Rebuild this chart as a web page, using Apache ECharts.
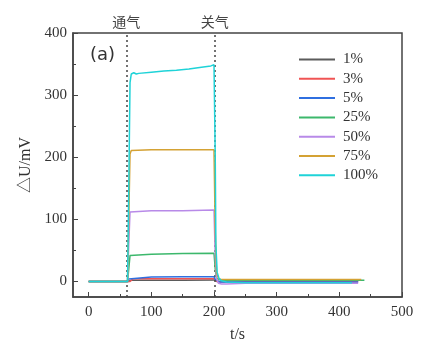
<!DOCTYPE html>
<html>
<head>
<meta charset="utf-8">
<script src="https://cdn.jsdelivr.net/npm/echarts@6/dist/echarts.min.js"></script>
<style>html,body{margin:0;padding:0;background:#fff;}#c{width:422px;height:358px;}</style>
</head>
<body>
<div id="c"></div>
<script>
// Series names and colours
const seriesNames = ['1%', '3%', '5%', '25%', '50%', '75%', '100%'];
const seriesColors = ['#5b5b5b', '#f05454', '#2f6fe0', '#3cb86c', '#b88ae8', '#d4a234', '#1fd3d8'];

// Time (s) and ΔU (mV) for each concentration
const t1 = [0, 63, 65, 68, 100, 150, 200, 202, 205, 210, 250, 300, 350, 400, 430];
const v1 = [0, 0, 1, 2, 2, 2, 2.5, 1, 0, 0, 0, 0, 0, 0, 0];
const t3 = [0, 66, 68, 71, 100, 150, 200, 202, 205, 210, 250, 300, 350, 400, 430];
const v3 = [0, 0, 2, 4.5, 4.5, 4.5, 4.5, 2, 0, -0.5, -0.5, -0.5, -0.5, -0.5, -0.5];
const t5 = [0, 62, 64, 66, 100, 150, 200, 202, 205, 210, 250, 300, 350, 400, 430];
const v5 = [0, 0, 4, 7, 7, 7.5, 7.5, 3, 0, -1, -1, -1, -1, -1, -1];
const t25 = [0, 62, 64, 66, 68, 100, 150, 200, 202, 204, 207, 212, 220, 250, 300, 350, 400, 440];
const v25 = [0, 0, 20, 42, 44, 44, 45, 45.5, 20, 5, 3, 2, 2, 2, 2, 2, 2, 2];
const t50 = [0, 62, 64, 66, 68, 100, 150, 200, 202, 204, 207, 212, 220, 250, 300, 350, 400, 430];
const v50 = [0, 0, 60, 112, 115, 114, 114, 115, 40, 5, -3, -4, -4, -3, -3, -3, -3, -3];
const t75 = [0, 62, 64, 66, 68, 100, 150, 200, 202, 204, 207, 212, 220, 250, 300, 350, 400, 435];
const v75 = [0, 0, 100, 205, 211, 212, 212, 212, 80, 15, 5, 3, 3, 3, 3, 3, 3, 3];
const t100 = [0, 62, 64, 66, 68, 72, 76, 80, 100, 120, 140, 160, 180, 195, 200, 201, 202, 203, 205, 208, 212, 220, 250, 300, 350, 400, 420];
const v100 = [0, 0, 150, 320, 334, 336, 334, 335, 337, 339, 340, 342, 345, 347, 349, 352, 200, 60, 15, 5, 1, -1, -2, -2, -2, -2, -2];

// Axis ticks
const xTicks = [0, 100, 200, 300, 400, 500];
const xMinor = [50, 150, 250, 350, 450];
const yTicks = [0, 100, 200, 300, 400];
const yMinor = [50, 150, 250, 350];
const gasOn = 60, gasOff = 201;

const allT = [t1, t3, t5, t25, t50, t75, t100];
const allV = [v1, v3, v5, v25, v50, v75, v100];

const serif = "'Liberation Serif', 'Noto Sans CJK SC', serif";
const txt = '#333';

const series = seriesNames.map((name, i) => ({
  name: name,
  type: 'line',
  data: allT[i].map((t, j) => [t, allV[i][j]]),
  symbol: 'none',
  lineStyle: { color: seriesColors[i], width: 1.5 },
  itemStyle: { color: seriesColors[i] },
  z: 2 + i
}));

series[0].markLine = {
  silent: true,
  symbol: 'none',
  lineStyle: { type: [2, 3], color: '#444', width: 1.5 },
  label: { show: true, position: 'end', distance: 4, color: '#444', fontSize: 14, fontFamily: "'Noto Sans CJK SC', sans-serif", formatter: p => p.name },
  data: [{ name: '通气', xAxis: gasOn }, { name: '关气', xAxis: gasOff }]
};

const chart = echarts.init(document.getElementById('c'), null, { renderer: 'canvas' });
chart.setOption({
  animation: false,
  backgroundColor: '#fff',
  grid: { left: 73, right: 20, top: 33, bottom: 61, show: true, borderColor: '#444', borderWidth: 1.5, backgroundColor: 'transparent' },
  legend: {
    orient: 'vertical', left: 299, top: 51, padding: 0, itemWidth: 36, itemHeight: 2, itemGap: 2.3,
    icon: 'rect',
    data: seriesNames,
    textStyle: { fontSize: 15, lineHeight: 17, color: txt, fontFamily: serif, padding: [0, 0, 0, 3] }
  },
  xAxis: [{
    type: 'value', min: -25, max: 500,
    name: 't/s', nameLocation: 'middle', nameGap: 30,
    nameTextStyle: { fontSize: 16, color: txt, fontFamily: serif },
    axisLine: { show: true, onZero: false, lineStyle: { color: '#444', width: 1.5 } },
    axisTick: { show: true, inside: true, length: 5, customValues: xTicks, lineStyle: { color: '#444' } },
    axisLabel: { customValues: xTicks, fontSize: 15, color: txt, fontFamily: serif, margin: 8 },
    splitLine: { show: false }
  }, {
    type: 'value', min: -25, max: 500, position: 'bottom',
    axisLine: { show: false, onZero: false },
    axisTick: { show: true, inside: true, length: 3, customValues: xMinor, lineStyle: { color: '#444' } },
    axisLabel: { show: false },
    splitLine: { show: false }
  }],
  yAxis: [{
    type: 'value', min: -25, max: 400,
    name: '△U/mV', nameLocation: 'middle', nameGap: 38, nameRotate: 90,
    nameTextStyle: { fontSize: 16, color: txt, fontFamily: serif },
    axisLine: { show: true, onZero: false, lineStyle: { color: '#444', width: 1.5 } },
    axisTick: { show: true, inside: true, length: 5, customValues: yTicks, lineStyle: { color: '#444' } },
    axisLabel: { customValues: yTicks, fontSize: 15, color: txt, fontFamily: serif, margin: 6 },
    splitLine: { show: false }
  }, {
    type: 'value', min: -25, max: 400, position: 'left',
    axisLine: { show: false, onZero: false },
    axisTick: { show: true, inside: true, length: 3, customValues: yMinor, lineStyle: { color: '#444' } },
    axisLabel: { show: false },
    splitLine: { show: false }
  }],
  graphic: [{
    type: 'text', left: 90, top: 46,
    style: { text: '(a)', fontSize: 18, fill: txt, fontFamily: "'DejaVu Sans', sans-serif" }
  }],
  series: series
});
</script>
</body>
</html>
